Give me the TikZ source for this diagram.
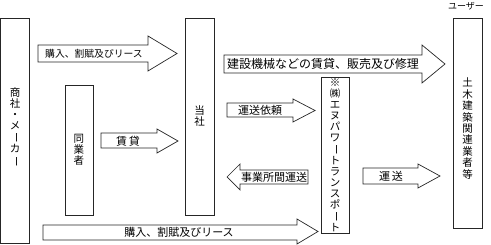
\documentclass[tikz,border=0pt]{standalone}
\usepackage{fontspec}
\setmainfont{Noto Sans CJK JP}
\newcommand\vbar{\rotatebox[origin=c]{-90}{ー}}
\newcommand\ArrR[7]{% L T B H HT HB X
  \draw[arr] (#1,#2) -- (#4,#2) -- (#4,#5) -- ({#7},{(#5+#6)/2}) -- (#4,#6) -- (#4,#3) -- (#1,#3) -- cycle;}
\newcommand\ArrL[7]{% R T B H HT HB X
  \draw[arr] (#1,#2) -- (#4,#2) -- (#4,#5) -- ({#7},{(#5+#6)/2}) -- (#4,#6) -- (#4,#3) -- (#1,#3) -- cycle;}
\begin{document}
\begin{tikzpicture}[x=1pt,y=-1pt,
  box/.style={draw=black!85,line width=0.7pt,inner sep=0pt},
  arr/.style={draw=black!85,line width=0.7pt,fill=white},
  vtext/.style={align=center,inner sep=0pt,font=\fontsize{10.5}{11}\selectfont},
  htext/.style={inner sep=0pt,font=\fontsize{11}{12}\selectfont}]
\useasboundingbox (0,0) rectangle (491,245);
% boxes
\node[box,minimum width=29pt,minimum height=225pt] (shoshabox) at (15,130.5) {};
\node[box,minimum width=28pt,minimum height=130pt] (dogyobox) at (79,150) {};
\node[box,minimum width=29pt,minimum height=197pt] (toshabox) at (199.5,116.5) {};
\node[box,minimum width=28pt,minimum height=156pt] (enubox) at (335,155) {};
\node[box,minimum width=29pt,minimum height=210pt] (dobokubox) at (467.5,123) {};
% vertical texts
\node[vtext] (shosha) at (15,127) {商\\社\\・\\メ\\\vbar\\カ\\\vbar};
\node[vtext] (dogyo) at (79,150) {同\\業\\者};
\node[vtext] (tosha) at (199.5,116) {当\\社};
\node[vtext] (enu) at (335,155) {※\\㈱\\エ\\ヌ\\パ\\ワ\\\vbar\\ト\\ラ\\ン\\ス\\ポ\\\vbar\\ト};
\node[vtext,font=\fontsize{10.5}{11.4}\selectfont] (doboku) at (467.5,128.5) {土\\木\\建\\築\\関\\連\\業\\者\\等};
\node[inner sep=0pt,font=\fontsize{9}{10}\selectfont] (user) at (466,6) {ユーザー};
% arrows
\ArrR{38}{45}{62}{148}{36}{71}{177}
\node[htext,font=\fontsize{9.8}{11}\selectfont] (a1) at (94,53.5) {購入、割賦及びリース};
\ArrR{224}{55}{73}{422}{45}{83}{445}
\node[htext,font=\fontsize{12}{13}\selectfont] (a2) at (323,64) {建設機械などの賃貸、販売及び修理};
\ArrR{227}{103}{117}{293}{99}{122}{315}
\node[htext] (a3) at (260,110) {運送依頼};
\ArrR{101}{133}{148}{157}{129}{153}{178}
\node[htext] (a4) at (128,141) {賃\,貸};
\ArrL{308}{170}{184}{240}{164}{190}{227}
\node[htext] (a5) at (274,177) {事業所間運送};
\ArrR{363}{168}{184}{418}{164}{188}{440}
\node[htext] (a6) at (391,176) {運\,送};
\ArrR{43}{225}{240}{297}{219}{244}{318}
\node[htext] (a7) at (179,232) {購入、割賦及びリース};
\end{tikzpicture}
\end{document}
